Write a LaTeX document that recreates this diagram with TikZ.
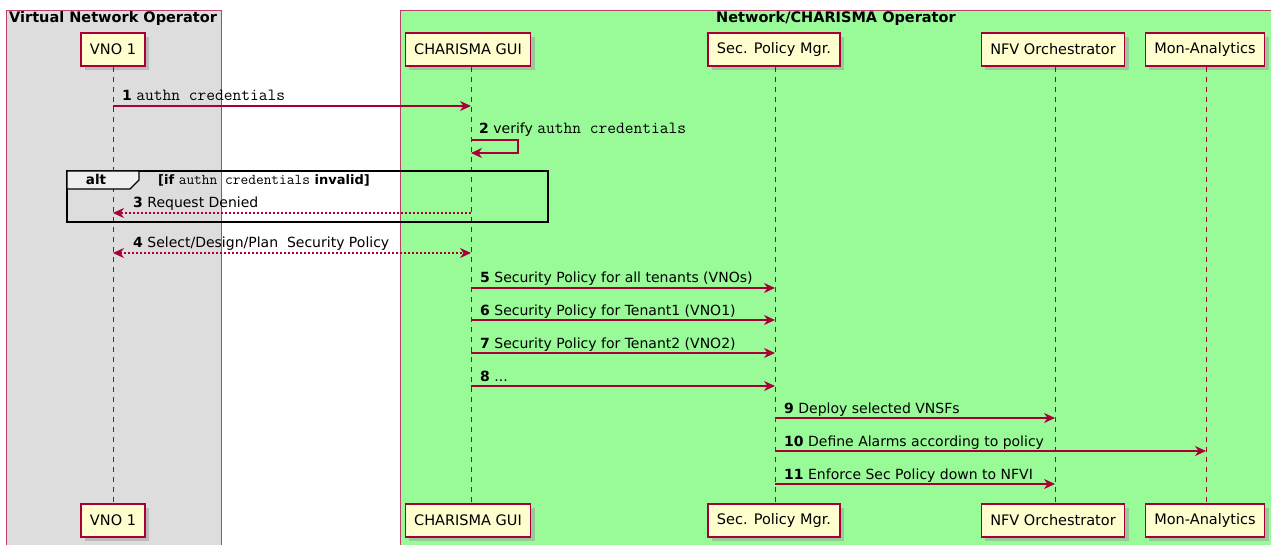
\documentclass[tikz,border=0pt]{standalone}
\usepackage{fontspec}
\setmainfont{DejaVu Sans}
\usetikzlibrary{arrows.meta,shadows,positioning}
\definecolor{umlred}{HTML}{A80036}
\definecolor{partfill}{HTML}{FEFECE}
\definecolor{vnogrey}{HTML}{DDDDDD}
\definecolor{netgreen}{HTML}{98FB98}
\definecolor{altgrey}{HTML}{EEEEEE}

\begin{document}
\begin{tikzpicture}[x=1pt,y=-1pt,>={Stealth[length=11pt,width=10pt,inset=3.5pt]},
    part/.style={draw=umlred,fill=partfill,line width=1.2pt,minimum height=33pt,
                 inner xsep=9pt,font=\fontsize{14.5}{16}\selectfont,
                 drop shadow={shadow xshift=4pt,shadow yshift=-4pt,fill=black!40}},
    life/.style={umlred,line width=1pt,dash pattern=on 5pt off 5pt},
    msg/.style={umlred,line width=1.1pt,->},
    reply/.style={msg,dash pattern=on 2pt off 2pt},
    lbl/.style={anchor=base west,inner sep=0pt,font=\fontsize{14}{16}\selectfont},
    grp/.style={draw=umlred!75,line width=1pt},
    head/.style={anchor=base,inner sep=0pt,font=\fontsize{14.5}{16}\selectfont\bfseries}]
  \useasboundingbox (0,0) rectangle (1271,545);

  % boxes
  \begin{scope}
    \clip (0,0) rectangle (1271,545);
    \draw[grp,fill=vnogrey]  (6,11) rectangle (221,560);
    \draw[grp,fill=netgreen] (400,11) rectangle (1290,560);
  \end{scope}
  \node[head,anchor=base west] (vnohead) at (9,23) {Virtual Network Operator};
  \node[head] (nethead) at (836,23) {Network/CHARISMA Operator};

  % participants
  \node[part] (vno)  at (113,49.5)  {VNO 1};
  \node[part] (gui)  at (468,49.5)  {CHARISMA GUI};
  \node[part] (spm)  at (774,49.5)  {Sec. Policy Mgr.};
  \node[part] (nfvo) at (1053,49.5) {NFV Orchestrator};
  \node[part] (mon)  at (1205,49.5) {Mon-Analytics};
  \node[part] (vnoB)  at (113,520.5)  {VNO 1};
  \node[part] (guiB)  at (468,520.5)  {CHARISMA GUI};
  \node[part] (spmB)  at (774,520.5)  {Sec. Policy Mgr.};
  \node[part] (nfvoB) at (1053,520.5) {NFV Orchestrator};
  \node[part] (monB)  at (1205,520.5) {Mon-Analytics};

  % lifelines
  \coordinate (vnoL)  at (113,0);
  \coordinate (guiL)  at (471,0);
  \coordinate (spmL)  at (775,0);
  \coordinate (nfvoL) at (1055,0);
  \coordinate (monL)  at (1206,0);
  \foreach \p in {vno,gui,spm,nfvo,mon}
    \draw[life] (\p L |- \p.south) -- (\p L |- \p B.north);

  % messages
  \foreach \f/\t/\y/\n/\txt in {
      vno/gui/106/1/{{\fontsize{17}{16}\ttfamily authn credentials}},
      gui/spm/288/5/{Security Policy for all tenants (VNOs)},
      gui/spm/320/6/{Security Policy for Tenant1 (VNO1)},
      gui/spm/353/7/{Security Policy for Tenant2 (VNO2)},
      gui/spm/386/8/{...},
      spm/nfvo/418/9/{Deploy selected VNSFs},
      spm/mon/451/10/{Define Alarms according to policy},
      spm/nfvo/484/11/{Enforce Sec Policy down to NFVI}}{
    \draw[msg] (\f L |- 0,\y) -- (\t L |- 0,\y);
    \path (\f L |- 0,\y) ++(9,-5) node[lbl] {\textbf{\n} \txt};
  }

  \draw[msg] (guiL |- 0,140) -- ++(47,0) -- ++(0,13) -- (guiL |- 0,153);
  \path (guiL |- 0,140) ++(8,-6) node[lbl]
    {\textbf{2} verify {\fontsize{17}{16}\ttfamily authn credentials}};

  % alt
  \draw[line width=1.6pt] (67,171) rectangle (548,222);
  \draw[line width=1.2pt,fill=altgrey] (67,171) -- (139,171) -- (139,180)
    -- (130,189) -- (67,189) -- cycle;
  \node[head,font=\fontsize{13.5}{15}\selectfont\bfseries] (alt) at (96,185) {alt};
  \node[lbl,font=\fontsize{13}{15}\selectfont\bfseries] (cond) at (158,185)
    {[if {\mdseries\fontsize{15}{15}\ttfamily authn credentials} invalid]};

  \draw[reply] (guiL |- 0,213) -- (vnoL |- 0,213);
  \path (vnoL |- 0,213) ++(20,-5) node[lbl] {\textbf{3} Request Denied};

  \draw[reply,<->] (vnoL |- 0,253) -- (guiL |- 0,253);
  \path (vnoL |- 0,253) ++(20,-5) node[lbl] {\textbf{4} Select/Design/Plan\ \ Security Policy};
\end{tikzpicture}
\end{document}
